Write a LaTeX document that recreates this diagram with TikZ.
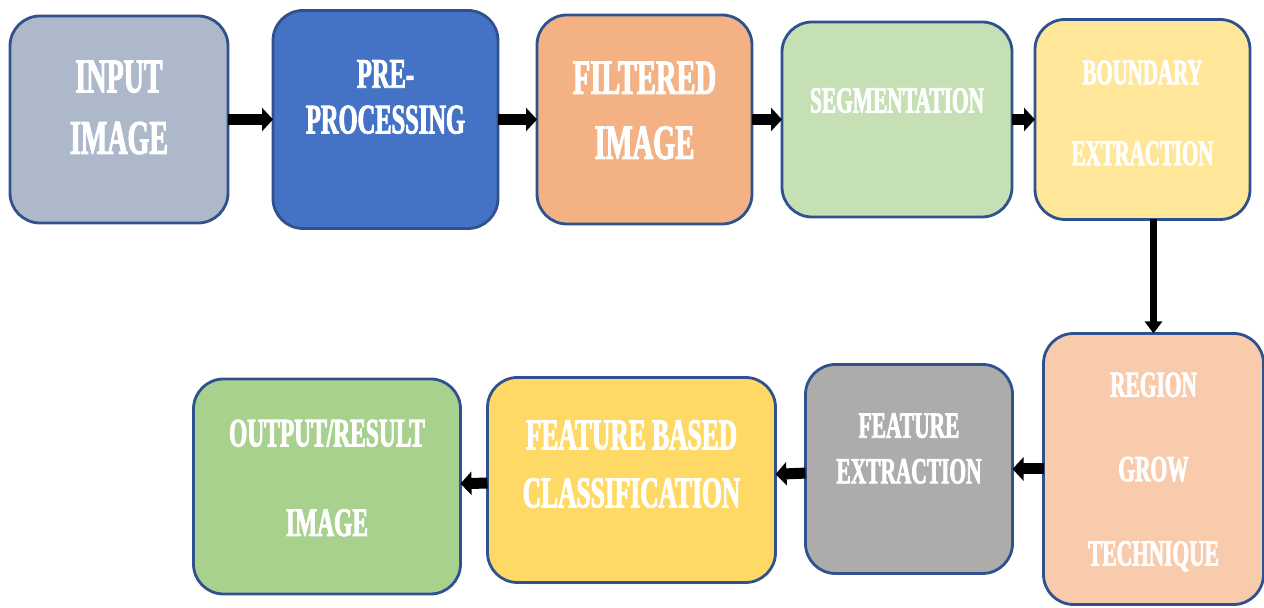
\documentclass[tikz,border=0pt]{standalone}
\usepackage{fontspec}
\newfontfamily\stepfont{Liberation Serif Bold}[FakeStretch=0.58, FakeBold=2]
\usetikzlibrary{arrows.meta}
\usetikzlibrary{positioning}

\definecolor{edgeblue}{HTML}{2F528F}
\definecolor{inputgrey}{HTML}{ADB9CA}
\definecolor{preblue}{HTML}{4472C4}
\definecolor{filtorange}{HTML}{F4B183}
\definecolor{seggreen}{HTML}{C5E0B4}
\definecolor{boundyellow}{HTML}{FFE699}
\definecolor{regionpeach}{HTML}{F8CBAD}
\definecolor{fextgrey}{HTML}{AEABAB}
\definecolor{fbcyellow}{HTML}{FFD966}
\definecolor{outgreen}{HTML}{A9D18E}

\newcommand{\boxfont}[2]{\stepfont\fontsize{#1}{#2}\selectfont}

\tikzstyle{stage} = [rectangle, rounded corners=0.6cm, draw=edgeblue, line width=1.6pt,
outer sep=0pt]
\tikzstyle{boxtext} = [text=white, align=center, inner sep=0pt]
\tikzstyle{arrow} = [line width=0.22cm, -{Triangle[width=0.46cm, length=0.22cm]}]
\tikzstyle{downarrow} = [line width=0.14cm, -{Triangle[width=0.34cm, length=0.24cm]}]

\begin{document}
\begin{tikzpicture}
    \useasboundingbox (0,0) rectangle (25.28,12.16);

    % top row, left to right
    \node (input) [stage, fill=inputgrey, minimum width=4.36cm, minimum height=4.14cm] at (2.38,9.77) {};
    \node (pre) [stage, fill=preblue, minimum width=4.5cm, minimum height=4.36cm, right=0.9cm of input] {};
    \node (filt) [stage, fill=filtorange, minimum width=4.3cm, minimum height=4.18cm, right=0.78cm of pre] {};
    \node (seg) [stage, fill=seggreen, minimum width=4.6cm, minimum height=3.9cm, right=0.6cm of filt] {};
    \node (bound) [stage, fill=boundyellow, minimum width=4.3cm, minimum height=4cm, right=0.46cm of seg] {};

    % bottom row, right to left
    \node (region) [stage, fill=regionpeach, minimum width=4.4cm, minimum height=5.42cm, below=2.28cm of bound, xshift=0.22cm] {};
    \node (fext) [stage, fill=fextgrey, minimum width=4.14cm, minimum height=4.18cm, left=0.62cm of region] {};
    \node (fbc) [stage, fill=fbcyellow, minimum width=5.76cm, minimum height=4.1cm, left=0.6cm of fext, yshift=-0.22cm] {};
    \node (output) [stage, fill=outgreen, minimum width=5.34cm, minimum height=4.3cm, left=0.54cm of fbc, yshift=-0.13cm] {};

    % texts
    \node (inputtxt) [boxtext, font=\boxfont{27.5}{35}] at ([yshift=0.24cm]input.center) {INPUT\\IMAGE};
    \node (pretxt) [boxtext, font=\boxfont{24}{26}] at ([yshift=0.45cm]pre.center) {PRE-\\PROCESSING};
    \node (filttxt) [boxtext, font=\boxfont{28}{37}] at ([yshift=0.18cm]filt.center) {FILTERED\\IMAGE};
    \node (segtxt) [boxtext, font=\boxfont{21}{25}] at ([yshift=0.38cm]seg.center) {SEGMENTATION};
    \node (boundtxt) [boxtext, font=\boxfont{20.5}{46}] at ([yshift=0.13cm]bound.center) {BOUNDARY\\EXTRACTION};
    \node (regiontxt) [boxtext, font=\boxfont{21}{48}] at ([yshift=-0.06cm]region.center) {REGION\\GROW\\TECHNIQUE};
    \node (fexttxt) [boxtext, font=\boxfont{21}{26}] at ([yshift=0.41cm]fext.center) {FEATURE\\EXTRACTION};
    \node (fbctxt) [boxtext, font=\boxfont{25}{33}] at ([yshift=0.32cm]fbc.center) {FEATURE BASED\\CLASSIFICATION};
    \node (outputtxt) [boxtext, font=\boxfont{23}{51}] at ([yshift=0.17cm]output.center) {OUTPUT/RESULT\\IMAGE};

    \draw[arrow] (input) -- (pre);
    \draw[arrow] (pre) -- (filt);
    \draw[arrow] (filt) -- (seg);
    \draw[arrow] (seg) -- (bound);
    \draw[downarrow] (bound.south -| region.north) -- (region.north);
    \draw[arrow] (region) -- (fext);
    \draw[arrow] (fext) -- (fbc);
    \draw[arrow] (fbc) -- (output);

\end{tikzpicture}
\end{document}
